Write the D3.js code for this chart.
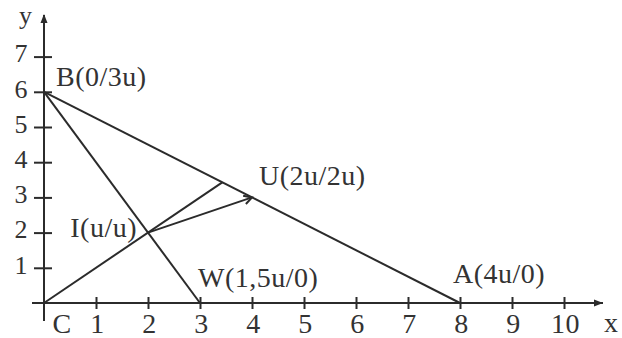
<!DOCTYPE html>
<html lang="en">
<head>
  <meta charset="UTF-8">
  <title>triangle</title>
  <style>
    body { margin: 0; background: #fff; }
    text {
      font-family: "Liberation Serif", "Times New Roman", serif;
      font-size: 28px;
      letter-spacing: 0.5px;
      fill: #333;
    }
    .axis--y text, .ylabel { font-size: 26px; }
    .axis path { display: none; }
    .axis line, .seg, .arrow { stroke: #2b2b2b; stroke-width: 2; fill: none; }
  </style>
</head>
<body>
  <svg width="622" height="338"></svg>
  <script src="https://cdn.jsdelivr.net/npm/d3@7"></script>
  <script>
    var xTicks = [1, 2, 3, 4, 5, 6, 7, 8, 9, 10],
      yTicks = [1, 2, 3, 4, 5, 6, 7];

    // named points (coordinates in chart units)
    var pointNames = ["C", "B", "A", "W", "I", "U", "P"],
      pointX = [0, 0, 8, 3, 2, 4, 24 / 7],
      pointY = [0, 6, 0, 0, 2, 3, 24 / 7];

    var labelNames = ["B", "I", "U", "W", "A", "C"],
      labelTexts = ["B(0/3u)", "I(u/u)", "U(2u/2u)", "W(1,5u/0)", "A(4u/0)", "C"];

    var segments = [["B", "A"], ["B", "W"], ["C", "P"], ["I", "U"]];

    var svg = d3.select("svg");

    var x = d3.scaleLinear().domain([0, 10]).range([44, 564]),
      y = d3.scaleLinear().domain([0, 7]).range([303, 56.6]);

    var pt = {};
    pointNames.forEach(function(n, i) { pt[n] = {x: pointX[i], y: pointY[i]}; });

    // axis lines
    svg.append("line").attr("class", "seg")
      .attr("x1", x(0) - 12).attr("x2", 603).attr("y1", y(0)).attr("y2", y(0));
    svg.append("line").attr("class", "seg")
      .attr("x1", x(0)).attr("x2", x(0)).attr("y1", y(0) + 18).attr("y2", 15);
    svg.append("path").attr("fill", "#2b2b2b")
      .attr("d", "M603," + y(0) + "l-9,-3.5l0,7z");
    svg.append("path").attr("fill", "#2b2b2b")
      .attr("d", "M" + x(0) + ",14l-3.5,9l7,0z");

    // axis-x
    var gx = svg.append("g")
      .attr("class", "axis axis--x")
      .attr("transform", "translate(0," + y(0) + ")")
      .call(d3.axisBottom(x).tickValues(xTicks).tickFormat(d3.format("d"))
        .tickSize(6).tickPadding(12));
    gx.selectAll(".tick line").attr("y1", -6).attr("y2", 6);
    gx.selectAll(".tick text").attr("fill", null).attr("font-size", null)
      .attr("font-family", null).attr("dy", "12px").attr("dx", "1px");

    // axis-y
    var gy = svg.append("g")
      .attr("class", "axis axis--y")
      .attr("transform", "translate(" + x(0) + ",0)")
      .call(d3.axisLeft(y).tickValues(yTicks).tickFormat(d3.format("d"))
        .tickSize(10).tickPadding(6));
    gy.selectAll(".tick line").attr("x1", -10).attr("x2", 8);
    gy.selectAll(".tick text").attr("fill", null).attr("font-size", null)
      .attr("font-family", null).attr("dy", "0.2em");

    svg.append("text").attr("class", "ylabel").attr("x", 19).attr("y", 24).text("y");
    svg.append("text").attr("x", 604).attr("y", 332).text("x");

    // segments
    svg.selectAll(".seg-line")
      .data(segments)
      .enter()
      .append("line")
      .attr("class", "seg")
      .attr("x1", function(d) { return x(pt[d[0]].x); })
      .attr("y1", function(d) { return y(pt[d[0]].y); })
      .attr("x2", function(d) { return x(pt[d[1]].x); })
      .attr("y2", function(d) { return y(pt[d[1]].y); });

    // arrowhead at U
    var ux = x(pt.U.x), uy = y(pt.U.y),
      ang = Math.atan2(uy - y(pt.I.y), ux - x(pt.I.x));
    svg.append("path").attr("class", "arrow")
      .attr("d", "M" + (ux - 9 * Math.cos(ang - 0.5)) + "," + (uy - 9 * Math.sin(ang - 0.5)) +
        "L" + ux + "," + uy +
        "L" + (ux - 9 * Math.cos(ang + 0.5)) + "," + (uy - 9 * Math.sin(ang + 0.5)));

    // point labels
    var offsets = {B: [12, -6, "start"], I: [-11, 4, "end"], U: [7, -12, "start"],
      W: [-2, -16, "start"], A: [-7, -20, "start"], C: [18, 30, "middle"]};
    svg.selectAll(".plabel")
      .data(labelNames)
      .enter()
      .append("text")
      .attr("class", "plabel")
      .attr("x", function(d) { return x(pt[d].x) + offsets[d][0]; })
      .attr("y", function(d) { return y(pt[d].y) + offsets[d][1]; })
      .attr("text-anchor", function(d) { return offsets[d][2]; })
      .text(function(d, i) { return labelTexts[i]; });
  </script>
</body>
</html>
